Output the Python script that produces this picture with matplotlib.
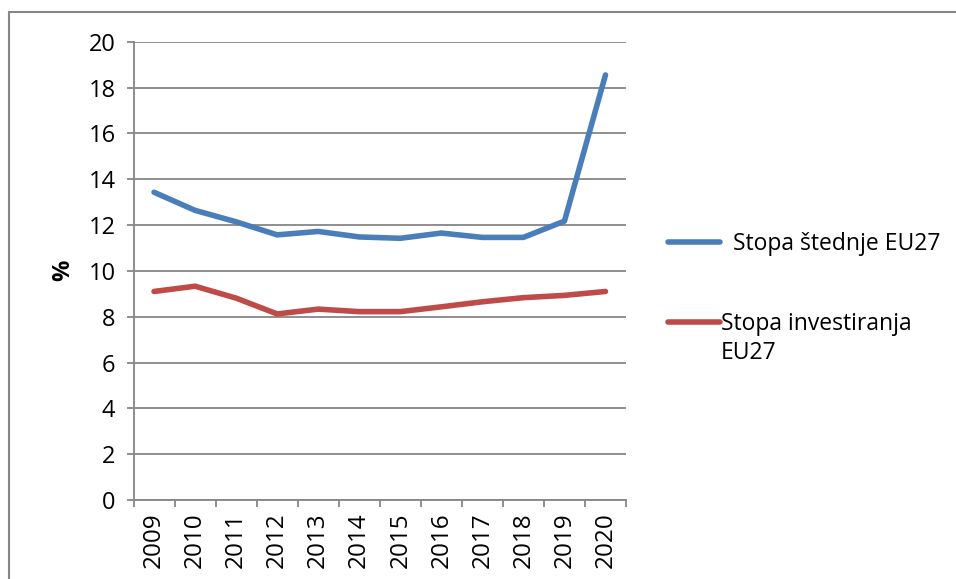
import matplotlib

matplotlib.use("Agg")
import matplotlib.pyplot as plt
from matplotlib.lines import Line2D
from matplotlib.patches import Rectangle

years = ["2009", "2010", "2011", "2012", "2013", "2014",
         "2015", "2016", "2017", "2018", "2019", "2020"]
savings_rate = [13.43, 12.64, 12.14, 11.57, 11.72, 11.48,
                11.42, 11.65, 11.46, 11.46, 12.17, 18.55]
investment_rate = [9.1, 9.33, 8.81, 8.12, 8.33, 8.22,
                   8.22, 8.43, 8.65, 8.83, 8.93, 9.1]
series_labels = ["Stopa štednje EU27", "Stopa investiranja\nEU27"]
y_ticks = list(range(0, 21, 2))

BLUE = "#4a7ebb"
RED = "#be4b48"
GRID = "#868686"

plt.rcParams["font.family"] = ["Open Sans", "DejaVu Sans"]

fig = plt.figure(figsize=(9.56, 5.79), dpi=100)
ax = fig.add_axes([133.5 / 956, 79 / 579, 492.5 / 956, 458.3 / 579])

x = list(range(len(years)))
ax.plot(x, savings_rate, color=BLUE, lw=4, solid_capstyle="round", solid_joinstyle="round")
ax.plot(x, investment_rate, color=RED, lw=4, solid_capstyle="round", solid_joinstyle="round")

ax.set_xlim(-0.5, len(years) - 0.5)
ax.set_ylim(0, 20)
ax.set_yticks(y_ticks)
ax.set_xticks(x)
ax.set_xticklabels(years, rotation=90)
ax.set_xticks([i - 0.5 for i in range(len(years) + 1)], minor=True)
ax.tick_params(axis="x", which="major", length=0, pad=9, labelsize=17.5)
ax.tick_params(axis="x", which="minor", length=5, width=1.3, color=GRID, direction="out")
ax.tick_params(axis="y", length=5, width=1.3, color=GRID, pad=8, labelsize=17)

ax.grid(axis="y", color=GRID, lw=1.3)
ax.set_axisbelow(True)
for side in ("top", "right"):
    ax.spines[side].set_visible(False)
for side in ("left", "bottom"):
    ax.spines[side].set_color(GRID)
    ax.spines[side].set_linewidth(1.3)

fig.text(63 / 956, 1 - 270 / 579, "%", rotation=90, ha="center", va="center",
         fontsize=17, fontweight="bold")

# legend drawn by hand to keep the handle next to the first text line
leg_items = [(BLUE, 242, 733, series_labels[0]), (RED, 322, 721, series_labels[1])]
for color, ypix, xtext, label in leg_items:
    fig.add_artist(Line2D([668 / 956, 720 / 956], [1 - ypix / 579] * 2,
                          color=color, lw=4, solid_capstyle="round",
                          transform=fig.transFigure))
    fig.text(xtext / 956, 1 - (ypix - 10) / 579, label, ha="left", va="top",
             fontsize=16.5, linespacing=1.3)

# chart-area frame
fig.add_artist(Rectangle((9 / 956, -0.1), 1.2, 1.1 - 12 / 579, transform=fig.transFigure,
                         fill=False, edgecolor=GRID, lw=1.5))

fig.savefig("out.png", dpi=100)
